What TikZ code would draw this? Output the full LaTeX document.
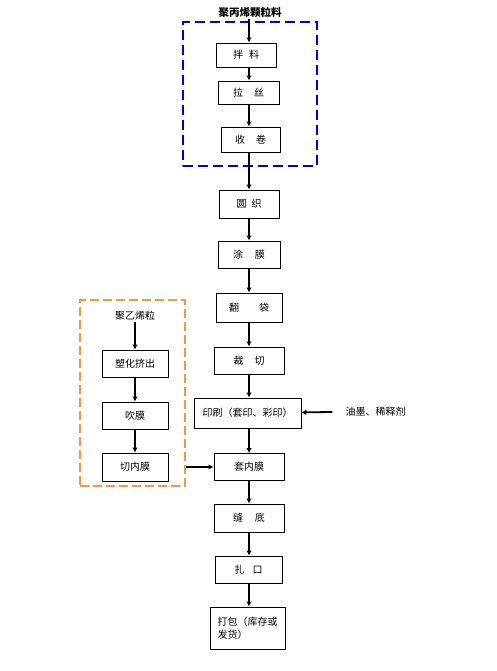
\documentclass[tikz,border=0pt]{standalone}
\usepackage{fontspec}
\setmainfont{Noto Sans CJK SC}
\usetikzlibrary{arrows.meta}
\definecolor{ppblue}{RGB}{0,0,200}
\definecolor{peorange}{RGB}{247,150,70}
\tikzset{
  stepbox/.style={draw, line width=0.9pt, inner sep=1pt,
    font=\fontsize{10}{13}\selectfont},
  arr/.style={line width=1.8pt, -{Latex[length=5pt,width=5.5pt]}},
  plain/.style={font=\fontsize{10}{13}\selectfont, inner sep=1pt},
  ppgroup/.style={draw=ppblue, line width=2.4pt,
    dash pattern=on 10pt off 5pt},
  pegroup/.style={draw=peorange, line width=1.8pt,
    dash pattern=on 9pt off 4pt}
}
\begin{document}
\begin{tikzpicture}[x=1pt,y=-1pt]
  \useasboundingbox (0,0) rectangle (496,671);
  % groups
  \node[ppgroup, minimum width=134, minimum height=144] (ppgrp) at (250,94) {};
  \node[pegroup, minimum width=105, minimum height=186] (pegrp) at (132.5,393) {};
  \coordinate (sp) at (249,0);
  % main line
  \node[plain, font=\fontsize{10.5}{13}\selectfont\bfseries] (pp) at (250,13) {聚丙烯颗粒料};
  \node[stepbox, minimum width=60, minimum height=24] (bl) at (246,55) {拌\hspace{0.6em}料};
  \node[stepbox, minimum width=61, minimum height=23] (ls) at (248.5,92.5) {拉\hspace{1.1em}丝};
  \node[stepbox, minimum width=59, minimum height=25] (sj) at (250.5,139.5) {收\hspace{1.1em}卷};
  \node[stepbox, minimum width=60, minimum height=28] (yz) at (249,204) {圆\hspace{0.5em}织};
  \node[stepbox, minimum width=62, minimum height=27] (tm) at (249,254.5) {涂\hspace{1.2em}膜};
  \node[stepbox, minimum width=66, minimum height=29] (fd) at (249,307.5) {翻\hspace{2em}袋};
  \node[stepbox, minimum width=70, minimum height=27] (cq) at (249,360.5) {裁\hspace{1.1em}切};
  \node[stepbox, minimum width=107, minimum height=30] (ys) at (247.5,413) {印刷（套印、彩印）};
  \node[plain] (ink) at (375.5,411.5) {油墨、稀释剂};
  \node[stepbox, minimum width=70, minimum height=27] (tnm) at (249,467) {套内膜};
  \node[stepbox, minimum width=70, minimum height=28] (fdi) at (249,518) {缝\hspace{1.2em}底};
  \node[stepbox, minimum width=67, minimum height=27] (zk) at (248.5,569.5) {扎\hspace{0.8em}口};
  \node[stepbox, minimum width=75, minimum height=42, align=left] (db) at (247.5,628)
    {打包（库存或\\发货）};
  % inner film line
  \node[plain] (pe) at (135,316) {聚乙烯粒};
  \node[stepbox, minimum width=66, minimum height=27] (sh) at (135,363.5) {塑化挤出};
  \node[stepbox, minimum width=66, minimum height=27] (cm) at (135,415.5) {吹膜};
  \node[stepbox, minimum width=66, minimum height=28] (qnm) at (135,467) {切内膜};
  % connectors
  \draw[arr] (pp.south -| sp) -- (bl.north -| sp);
  \draw[arr] (bl.south -| sp) -- (ls.north -| sp);
  \draw[arr] (ls.south -| sp) -- (sj.north -| sp);
  \draw[arr] (sj.south -| sp) -- (yz.north -| sp);
  \draw[arr] (yz.south -| sp) -- (tm.north -| sp);
  \draw[arr] (tm.south -| sp) -- (fd.north -| sp);
  \draw[arr] (fd.south -| sp) -- (cq.north -| sp);
  \draw[arr] (cq.south -| sp) -- (ys.north -| sp);
  \draw[arr] (ys.south -| sp) -- (tnm.north -| sp);
  \draw[arr] (tnm.south -| sp) -- (fdi.north -| sp);
  \draw[arr] (fdi.south -| sp) -- (zk.north -| sp);
  \draw[arr] (zk.south -| sp) -- (db.north -| sp);
  \draw[arr, shorten <=12pt] (ink) -- (ys);
  \draw[arr] (pe) -- (sh);
  \draw[arr] (sh) -- (cm);
  \draw[arr] (cm) -- (qnm);
  \draw[arr] (pegrp.east |- tnm) -- (tnm);
\end{tikzpicture}
\end{document}
